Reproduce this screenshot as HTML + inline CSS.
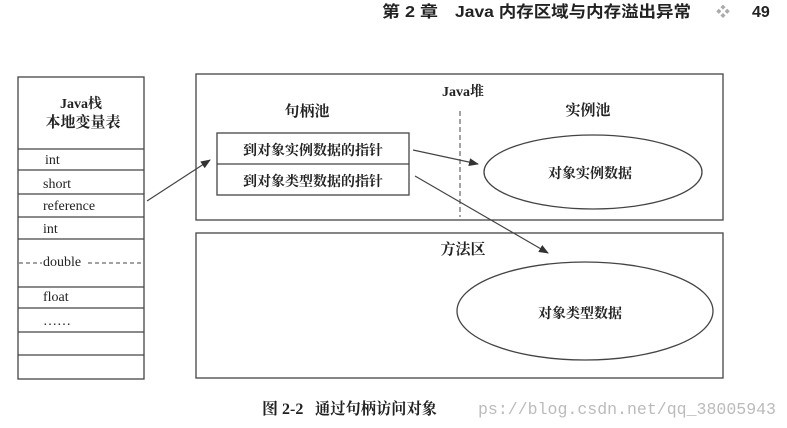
<!DOCTYPE html>
<html><head><meta charset="utf-8"><style>
html,body{margin:0;padding:0;background:#fff;}
svg{display:block;}
text{font-family:"Liberation Serif","Noto Serif CJK SC",serif;fill:#222;}
.b{font-weight:bold;}
</style></head><body>
<svg width="787" height="428" viewBox="0 0 787 428" xmlns="http://www.w3.org/2000/svg">
<defs><marker id="a" markerWidth="10" markerHeight="8" refX="9" refY="4" orient="auto" markerUnits="userSpaceOnUse"><path d="M0,0 L10,4 L0,8 Z" fill="#333"/></marker></defs>
<g style="font-family:'Liberation Sans','Noto Sans CJK SC',sans-serif" font-size="16" class="b">
<text x="382" y="17" textLength="56" lengthAdjust="spacingAndGlyphs" style="font-family:'Liberation Sans','Noto Sans CJK SC',sans-serif">第 2 章</text>
<text x="455" y="17" textLength="236" lengthAdjust="spacingAndGlyphs" style="font-family:'Liberation Sans','Noto Sans CJK SC',sans-serif">Java 内存区域与内存溢出异常</text>
<text x="752" y="17" style="font-family:'Liberation Sans',sans-serif">49</text>
</g>
<text x="716" y="17" font-size="14" style="fill:#aaa">❖</text>
<g fill="none" stroke="#444" stroke-width="1.3">
<rect x="18" y="77" width="126" height="302"/>
<line x1="18" y1="149" x2="144" y2="149"/>
<line x1="18" y1="170" x2="144" y2="170"/>
<line x1="18" y1="194" x2="144" y2="194"/>
<line x1="18" y1="217" x2="144" y2="217"/>
<line x1="18" y1="239" x2="144" y2="239"/>
<line x1="18" y1="287" x2="144" y2="287"/>
<line x1="18" y1="308" x2="144" y2="308"/>
<line x1="18" y1="332" x2="144" y2="332"/>
<line x1="18" y1="355" x2="144" y2="355"/>
<rect x="196" y="74" width="527" height="146"/>
<rect x="196" y="233" width="527" height="145"/>
<rect x="217" y="133" width="192" height="62"/>
<line x1="217" y1="164" x2="409" y2="164"/>
<line x1="460" y1="111" x2="460" y2="217" stroke-dasharray="5,3" stroke-width="1"/>
<ellipse cx="593" cy="172" rx="109" ry="37"/>
<ellipse cx="585" cy="311" rx="128" ry="49"/>
<line x1="147" y1="201" x2="210" y2="160" marker-end="url(#a)" stroke-width="1.2"/>
<line x1="413" y1="150" x2="478" y2="164" marker-end="url(#a)" stroke-width="1.2"/>
<line x1="415" y1="176" x2="548" y2="253" marker-end="url(#a)" stroke-width="1.2"/>
</g>
<text x="81" y="108" font-size="14" class="b" text-anchor="middle">Java栈</text>
<text x="83" y="127" font-size="15" class="b" text-anchor="middle">本地变量表</text>
<g font-size="14">
<text x="45" y="164">int</text>
<text x="43" y="188">short</text>
<text x="43" y="210">reference</text>
<text x="43" y="233">int</text>
<text x="43" y="266">double</text>
<text x="43" y="301">float</text>
<text x="43" y="325">……</text>
</g>
<line x1="19" y1="263" x2="42" y2="263" stroke="#444" stroke-dasharray="4,3"/>
<line x1="88" y1="263" x2="144" y2="263" stroke="#444" stroke-dasharray="4,3"/>
<text x="307" y="116" font-size="15" class="b" text-anchor="middle">句柄池</text>
<text x="463" y="96" font-size="14" class="b" text-anchor="middle">Java堆</text>
<text x="588" y="115" font-size="15" class="b" text-anchor="middle">实例池</text>
<text x="463" y="254" font-size="15" class="b" text-anchor="middle">方法区</text>
<text x="313" y="155" font-size="14" class="b" text-anchor="middle">到对象实例数据的指针</text>
<text x="313" y="186" font-size="14" class="b" text-anchor="middle">到对象类型数据的指针</text>
<text x="590" y="178" font-size="14" class="b" text-anchor="middle">对象实例数据</text>
<text x="580" y="318" font-size="14" class="b" text-anchor="middle">对象类型数据</text>
<text x="262" y="414" font-size="16" class="b">图 2-2</text>
<text x="315" y="414" font-size="16" class="b" textLength="122" lengthAdjust="spacingAndGlyphs">通过句柄访问对象</text>
<text x="478" y="414" font-size="17" textLength="298" lengthAdjust="spacingAndGlyphs" style="fill:#bbb;font-family:'Liberation Mono',monospace">ps://blog.csdn.net/qq_38005943</text>
</svg>
</body></html>
